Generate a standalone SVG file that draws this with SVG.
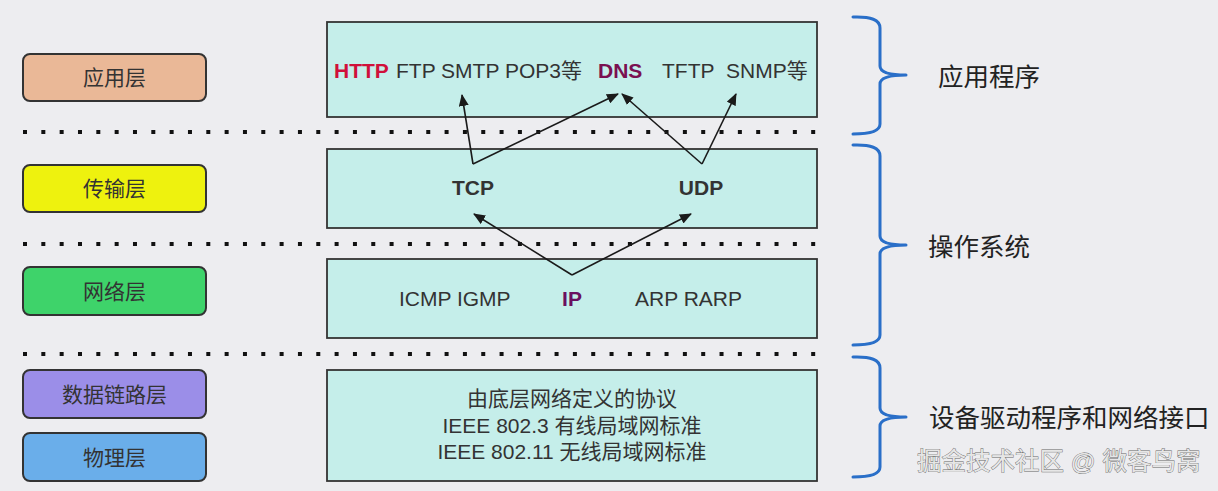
<svg xmlns="http://www.w3.org/2000/svg" width="1218" height="491" viewBox="0 0 1218 491">
<defs>
<marker id="ah" markerWidth="12" markerHeight="10" refX="11" refY="5" orient="auto" markerUnits="userSpaceOnUse">
<path d="M0,0 L12,5 L0,10 Z" fill="#1a1a1a"/>
</marker>
<style>
text{font-family:"Liberation Sans","Noto Sans CJK SC",sans-serif;}
.lb{stroke:#333;stroke-width:2;}
.lt{font-size:21px;fill:#333;text-anchor:middle;}
.rb{fill:#c5eeea;stroke:#333;stroke-width:1.8;}
.t{font-size:21px;fill:#333;}
.b{font-weight:bold;}
.dots{stroke:#111;stroke-width:4;stroke-dasharray:4 14.33;}
.br{fill:none;stroke:#2a6fc8;stroke-width:3;stroke-linecap:round;stroke-linejoin:round;}
.rl{font-size:25.5px;fill:#222;}
.con{stroke:#1a1a1a;stroke-width:1.6;fill:none;}
</style>
</defs>
<rect width="1218" height="491" fill="#ededf0"/>

<g id="dividers">
<line class="dots" x1="23" y1="132" x2="822" y2="132"/>
<line class="dots" x1="23" y1="244" x2="822" y2="244"/>
<line class="dots" x1="23" y1="354" x2="822" y2="354"/>
</g>

<g id="layer-app">
<rect class="lb" x="23" y="54" width="183" height="47" rx="7" fill="#eab897"/>
<text class="lt" x="114.5" y="85">应用层</text>
</g>
<g id="layer-transport">
<rect class="lb" x="23" y="165" width="183" height="47" rx="7" fill="#eef20e"/>
<text class="lt" x="114.5" y="196">传输层</text>
</g>
<g id="layer-network">
<rect class="lb" x="23" y="267" width="183" height="48" rx="7" fill="#3ed36a"/>
<text class="lt" x="114.5" y="299">网络层</text>
</g>
<g id="layer-datalink">
<rect class="lb" x="23" y="370" width="183" height="48" rx="7" fill="#9b8ee8"/>
<text class="lt" x="114.5" y="402">数据链路层</text>
</g>
<g id="layer-physical">
<rect class="lb" x="23" y="433" width="183" height="48" rx="7" fill="#6aaeea"/>
<text class="lt" x="114.5" y="465">物理层</text>
</g>

<g id="box-app">
<rect class="rb" x="327" y="22" width="490" height="95"/>
<text class="t b" x="334" y="78" style="fill:#d0103a">HTTP</text>
<text class="t" x="396" y="78">FTP SMTP POP3等</text>
<text class="t b" x="598" y="78" style="fill:#7a1050">DNS</text>
<text class="t" x="662" y="78">TFTP</text>
<text class="t" x="726" y="78">SNMP等</text>
</g>

<g id="box-transport">
<rect class="rb" x="327" y="149" width="490" height="79"/>
<text class="t b" x="473" y="195" text-anchor="middle">TCP</text>
<text class="t b" x="701" y="195" text-anchor="middle">UDP</text>
</g>

<g id="box-network">
<rect class="rb" x="327" y="259" width="490" height="79"/>
<text class="t" x="399" y="306">ICMP IGMP</text>
<text class="t b" x="572" y="306" text-anchor="middle" style="fill:#6a1060">IP</text>
<text class="t" x="635" y="306">ARP RARP</text>
</g>

<g id="box-link">
<rect class="rb" x="327" y="370" width="490" height="111"/>
<text class="t" x="572" y="406" text-anchor="middle">由底层网络定义的协议</text>
<text class="t" x="572" y="433" text-anchor="middle">IEEE 802.3 有线局域网标准</text>
<text class="t" x="572" y="459" text-anchor="middle">IEEE 802.11 无线局域网标准</text>
</g>

<g id="connectors">
<line class="con" x1="473" y1="164" x2="462" y2="95" marker-end="url(#ah)"/>
<line class="con" x1="473" y1="164" x2="618" y2="94" marker-end="url(#ah)"/>
<line class="con" x1="702" y1="164" x2="622" y2="94" marker-end="url(#ah)"/>
<line class="con" x1="702" y1="164" x2="736" y2="94" marker-end="url(#ah)"/>
<line class="con" x1="572" y1="275" x2="474" y2="214" marker-end="url(#ah)"/>
<line class="con" x1="572" y1="275" x2="691" y2="214" marker-end="url(#ah)"/>
</g>

<g id="brace-app">
<path class="br" d="M853,17 Q880,16 880,28 L880,66 Q880,75 906,75 Q880,75 880,84 L880,124 Q880,134 853,134"/>
<text class="rl" x="938" y="86">应用程序</text>
</g>
<g id="brace-os">
<path class="br" d="M853,145 Q880,144 880,156 L880,236 Q880,245 906,245 Q880,245 880,254 L880,335 Q880,345 853,345"/>
<text class="rl" x="928" y="256">操作系统</text>
</g>
<g id="brace-driver">
<path class="br" d="M853,357 Q880,356 880,368 L880,408 Q880,417 906,417 Q880,417 880,426 L880,467 Q880,477 853,477"/>
<text class="rl" x="929" y="427">设备驱动程序和网络接口</text>
</g>

<text x="917" y="470" style="font-size:24.5px;fill:#e6e6e6;stroke:#666;stroke-width:0.8;paint-order:stroke">掘金技术社区 @ 微客鸟窝</text>
</svg>
